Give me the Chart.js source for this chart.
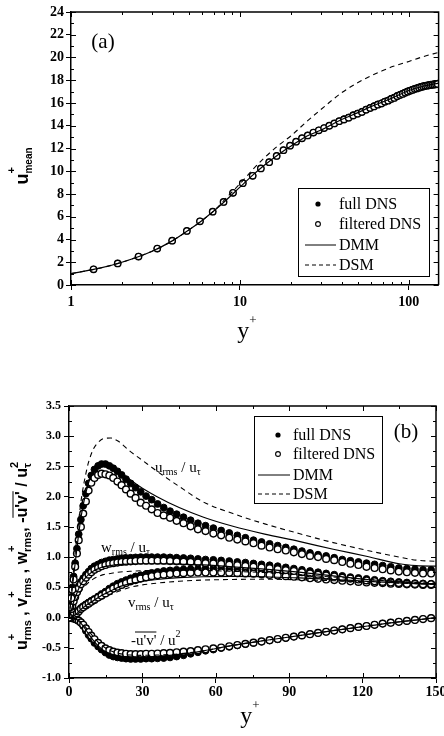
<!DOCTYPE html>
<html><head><meta charset="utf-8">
<script src="https://cdn.jsdelivr.net/npm/chart.js@4.4.1/dist/chart.umd.min.js"></script>
<style>html,body{margin:0;padding:0;background:#fff;}canvas{display:block;}</style>
</head><body>
<canvas id="ca" width="444" height="345"></canvas>
<canvas id="cb" width="444" height="391"></canvas>
<script>
// ---------- DATA ----------
// DNS grid points (y+)
const yPlus = [0,0.5,0.95,1.36,1.89,2.51,3.24,3.97,4.85,5.8,
 6.9,8.0,9.1,10.4,11.9,13.3,14.9,16.5,18.1,19.8,
 21.5,23.3,25.2,27.2,29.3,31.5,33.8,36.2,38.7,41.3,
 44.0,46.8,49.7,52.7,55.8,59.0,62.2,65.5,68.8,72.1,
 75.4,78.7,82.0,85.3,88.6,91.9,95.2,98.5,101.8,105.1,
 108.4,111.7,115.0,118.3,121.6,124.9,128.2,131.5,134.8,138.1,
 141.4,144.7,148.0];
// (a) mean velocity, from y+ = 1.36 onward
const uMeanFull = [1.38,1.9,2.5,3.2,3.9,4.75,5.6,6.45,7.3,8.1,
 8.95,9.6,10.25,10.8,11.35,11.85,12.25,12.6,12.9,13.15,
 13.4,13.6,13.8,14.0,14.2,14.4,14.6,14.75,14.95,15.1,
 15.25,15.45,15.6,15.75,15.9,16.0,16.15,16.25,16.4,16.5,
 16.65,16.75,16.85,16.95,17.05,17.12,17.2,17.27,17.33,17.4,
 17.45,17.5,17.54,17.57,17.6,17.63,17.66,17.68,17.7,17.72];
const uMeanFilt = [1.38,1.9,2.5,3.2,3.9,4.75,5.6,6.45,7.3,8.1,
 8.95,9.6,10.25,10.8,11.35,11.85,12.25,12.6,12.9,13.15,
 13.4,13.6,13.8,14.0,14.2,14.4,14.55,14.7,14.9,15.05,
 15.2,15.4,15.55,15.7,15.85,15.95,16.1,16.2,16.35,16.45,
 16.6,16.7,16.8,16.9,17.0,17.07,17.15,17.22,17.28,17.35,
 17.4,17.45,17.49,17.52,17.55,17.58,17.6,17.62,17.64,17.66];
const yLineA = [1,1.5,2,3,4,5,6,7,8,10,12,14,17,20,25,30,40,50,60,70,80,100,120,150];
const uMeanDMM = [1.0,1.5,2.0,2.95,3.9,4.85,5.7,6.5,7.25,8.6,9.7,10.55,11.5,12.2,13.1,13.6,14.55,15.15,15.7,16.1,16.45,17.1,17.45,17.75];
const uMeanDSM = [1.0,1.5,2.0,2.95,3.9,4.85,5.7,6.5,7.4,8.9,10.2,11.2,12.3,13.1,14.4,15.4,16.9,17.8,18.4,18.85,19.2,19.65,20.05,20.45];

// (b) turbulence intensities at DNS grid
const urmsFull = [0,0.18,0.34,0.5,0.68,0.9,1.14,1.38,1.62,1.85,
 2.05,2.22,2.35,2.45,2.51,2.54,2.54,2.51,2.47,2.42,
 2.36,2.29,2.22,2.15,2.08,2.01,1.95,1.88,1.82,1.76,
 1.71,1.66,1.61,1.56,1.52,1.48,1.44,1.4,1.36,1.32,
 1.28,1.25,1.22,1.19,1.16,1.13,1.1,1.07,1.04,1.02,
 0.99,0.96,0.94,0.92,0.9,0.88,0.86,0.84,0.82,0.81,
 0.8,0.79,0.79];
const urmsFilt = [0,0.17,0.32,0.46,0.63,0.84,1.06,1.28,1.5,1.72,
 1.92,2.1,2.23,2.31,2.36,2.38,2.37,2.35,2.31,2.25,
 2.19,2.12,2.05,1.98,1.9,1.85,1.79,1.73,1.69,1.65,
 1.6,1.56,1.51,1.46,1.43,1.39,1.36,1.32,1.29,1.26,
 1.23,1.19,1.16,1.13,1.11,1.08,1.05,1.02,1.0,0.97,
 0.95,0.92,0.89,0.87,0.84,0.82,0.8,0.78,0.76,0.75,
 0.74,0.73,0.73];
const wrmsFull = [0,0.08,0.15,0.21,0.29,0.37,0.45,0.52,0.59,0.65,
 0.71,0.76,0.81,0.85,0.88,0.91,0.93,0.95,0.96,0.97,
 0.98,0.985,0.99,0.995,1.0,1.0,1.0,1.0,1.0,0.995,
 0.99,0.985,0.98,0.97,0.96,0.955,0.945,0.935,0.92,0.91,
 0.895,0.88,0.865,0.85,0.83,0.81,0.79,0.77,0.75,0.73,
 0.71,0.69,0.67,0.655,0.64,0.625,0.61,0.6,0.59,0.58,
 0.57,0.565,0.56];
const wrmsFilt = [0,0.07,0.14,0.19,0.27,0.34,0.42,0.48,0.55,0.6,
 0.66,0.71,0.75,0.79,0.82,0.85,0.87,0.89,0.9,0.91,
 0.92,0.925,0.93,0.935,0.94,0.94,0.94,0.94,0.94,0.935,
 0.93,0.925,0.92,0.91,0.9,0.895,0.885,0.875,0.865,0.855,
 0.84,0.83,0.815,0.8,0.785,0.77,0.75,0.73,0.71,0.695,
 0.68,0.66,0.645,0.63,0.615,0.6,0.59,0.58,0.57,0.56,
 0.555,0.55,0.55];
const vrmsFull = [0,0,0.01,0.02,0.03,0.05,0.08,0.12,0.16,0.19,
 0.22,0.25,0.28,0.31,0.35,0.39,0.43,0.48,0.52,0.56,
 0.59,0.62,0.65,0.68,0.7,0.72,0.74,0.755,0.77,0.78,
 0.79,0.795,0.8,0.805,0.81,0.81,0.81,0.805,0.8,0.795,
 0.785,0.775,0.765,0.755,0.74,0.73,0.715,0.7,0.69,0.675,
 0.66,0.645,0.635,0.62,0.61,0.6,0.59,0.58,0.57,0.56,
 0.555,0.55,0.55];
const vrmsFilt = [0,0,0.01,0.02,0.03,0.05,0.07,0.1,0.14,0.17,
 0.2,0.23,0.26,0.29,0.33,0.36,0.4,0.44,0.48,0.51,
 0.54,0.57,0.6,0.62,0.645,0.665,0.685,0.7,0.71,0.72,
 0.73,0.735,0.74,0.745,0.745,0.745,0.745,0.74,0.735,0.73,
 0.725,0.715,0.705,0.695,0.685,0.675,0.665,0.65,0.64,0.63,
 0.62,0.61,0.6,0.59,0.58,0.575,0.57,0.56,0.555,0.55,
 0.545,0.54,0.54];
const uvFull = [0,0,-0.005,-0.01,-0.015,-0.025,-0.04,-0.06,-0.09,-0.14,
 -0.22,-0.29,-0.35,-0.42,-0.48,-0.53,-0.58,-0.62,-0.645,-0.66,
 -0.67,-0.68,-0.685,-0.685,-0.685,-0.68,-0.68,-0.675,-0.67,-0.66,
 -0.645,-0.625,-0.6,-0.575,-0.55,-0.53,-0.505,-0.485,-0.46,-0.44,
 -0.42,-0.4,-0.38,-0.36,-0.34,-0.315,-0.295,-0.275,-0.255,-0.235,
 -0.215,-0.195,-0.175,-0.155,-0.14,-0.12,-0.1,-0.085,-0.07,-0.055,
 -0.04,-0.025,-0.01];
const uvFilt = [0,0,-0.005,-0.01,-0.015,-0.02,-0.035,-0.05,-0.08,-0.12,
 -0.18,-0.24,-0.3,-0.36,-0.42,-0.47,-0.51,-0.54,-0.565,-0.58,
 -0.59,-0.6,-0.605,-0.605,-0.605,-0.6,-0.6,-0.595,-0.59,-0.585,
 -0.575,-0.565,-0.555,-0.54,-0.525,-0.51,-0.495,-0.475,-0.455,-0.435,
 -0.415,-0.395,-0.375,-0.355,-0.335,-0.315,-0.295,-0.275,-0.255,-0.235,
 -0.215,-0.195,-0.175,-0.155,-0.14,-0.12,-0.1,-0.085,-0.07,-0.055,
 -0.04,-0.025,-0.01];
// (b) LES model curves
const yLineB = [0,1,2,3,4,5,6,7,8,10,12,14,17,20,25,30,36,45,55,67,80,94,108,122,135,142,150];
const urmsDMM = [0,0.36,0.72,1.06,1.4,1.68,1.9,2.08,2.23,2.43,2.52,2.55,2.52,2.44,2.28,2.14,2.0,1.82,1.66,1.51,1.38,1.26,1.13,1.01,0.89,0.86,0.85];
const urmsDSM = [0,0.42,0.85,1.25,1.62,1.95,2.2,2.4,2.57,2.79,2.9,2.96,2.97,2.92,2.75,2.6,2.42,2.17,1.91,1.72,1.55,1.39,1.24,1.11,1.0,0.95,0.93];
const wrmsDMM = [0,0.13,0.27,0.38,0.48,0.56,0.62,0.67,0.71,0.77,0.81,0.84,0.86,0.875,0.885,0.89,0.89,0.885,0.87,0.84,0.8,0.75,0.69,0.63,0.59,0.57,0.56];
const wrmsDSM = [0,0.1,0.2,0.29,0.37,0.44,0.5,0.54,0.58,0.64,0.68,0.71,0.73,0.75,0.765,0.775,0.78,0.785,0.78,0.765,0.745,0.71,0.67,0.63,0.6,0.58,0.57];
const vrmsDMM = [0,0.01,0.03,0.06,0.1,0.14,0.17,0.2,0.23,0.28,0.33,0.38,0.44,0.5,0.56,0.6,0.63,0.66,0.675,0.68,0.675,0.655,0.63,0.6,0.575,0.56,0.55];
const vrmsDSM = [0,0.01,0.02,0.04,0.07,0.1,0.13,0.155,0.18,0.23,0.28,0.32,0.38,0.43,0.5,0.54,0.57,0.6,0.62,0.63,0.635,0.625,0.61,0.59,0.57,0.56,0.55];
const uvDMM = [0,0,-0.01,-0.03,-0.06,-0.1,-0.15,-0.21,-0.27,-0.38,-0.47,-0.54,-0.6,-0.63,-0.65,-0.65,-0.64,-0.61,-0.55,-0.46,-0.38,-0.3,-0.215,-0.14,-0.07,-0.04,0];
const uvDSM = [0,0,-0.01,-0.025,-0.05,-0.08,-0.12,-0.17,-0.22,-0.32,-0.41,-0.48,-0.55,-0.59,-0.62,-0.625,-0.62,-0.6,-0.55,-0.46,-0.38,-0.3,-0.215,-0.14,-0.07,-0.04,0];

// ticks
const xTicksA = [1,10,100];
const xMinorA = [2,3,4,5,6,7,8,9,20,30,40,50,60,70,80,90];
const yMinorA = [1,3,5,7,9,11,13,15,17,19,21,23];
const xMinorB = [15,45,75,105,135];
const yMinorB = [-0.75,-0.25,0.25,0.75,1.25,1.75,2.25,2.75,3.25];
const legendLabels = ['full DNS','filtered DNS','DMM','DSM'];

// ---------- HELPERS ----------
const zip = (xs, ys) => ys.map((v,i) => ({x: xs[i], y: v}));
const SERIF = '"Liberation Serif", "Times New Roman", serif';
const SANS = '"Liberation Sans", Arial, sans-serif';

function filledDS(data, r, order) {
  return {data, showLine:false, pointRadius:r, pointBackgroundColor:'#000', pointBorderColor:'#000', pointBorderWidth:1, order};
}
function openDS(data, r, order) {
  return {data, showLine:false, pointRadius:r, pointBackgroundColor:'#fff', pointBorderColor:'#000', pointBorderWidth:1.4, order};
}
function lineDS(data, dashed) {
  return {data, showLine:true, pointRadius:0, borderColor:'#000', borderWidth: dashed?1.1:1.2,
    borderDash: dashed?[5,4]:[], cubicInterpolationMode:'monotone', fill:false, order:0};
}

// rich text: segs = [{t, font, sup, sub, supFont, subFont, over}]
function richWidth(ctx, segs) {
  let w = 0;
  for (const s of segs) {
    ctx.font = s.font; let bw = ctx.measureText(s.t).width, ew = 0;
    if (s.sup) { ctx.font = s.supFont; ew = Math.max(ew, ctx.measureText(s.sup).width); }
    if (s.sub) { ctx.font = s.subFont; ew = Math.max(ew, ctx.measureText(s.sub).width); }
    w += bw + ew;
  }
  return w;
}
function rich(ctx, x, y, rot, segs, align) {
  ctx.save();
  ctx.translate(x, y);
  if (rot) ctx.rotate(-Math.PI/2);
  ctx.fillStyle = '#000'; ctx.strokeStyle = '#000';
  ctx.textBaseline = 'alphabetic'; ctx.textAlign = 'left';
  let cx = align === 'center' ? -richWidth(ctx, segs)/2 : 0;
  for (const s of segs) {
    ctx.font = s.font;
    const bw = ctx.measureText(s.t).width;
    ctx.fillText(s.t, cx, 0);
    if (s.over) { ctx.lineWidth = 1; ctx.beginPath(); ctx.moveTo(cx + s.over[0], -s.over[2]); ctx.lineTo(cx + bw - s.over[1], -s.over[2]); ctx.stroke(); }
    let ew = 0;
    if (s.sup) { ctx.font = s.supFont; ctx.fillText(s.sup, cx + bw + (s.supDx||0), -(s.supDy||7)); ew = Math.max(ew, ctx.measureText(s.sup).width); }
    if (s.sub) { ctx.font = s.subFont; ctx.fillText(s.sub, cx + bw, (s.subDy||3)); ew = Math.max(ew, ctx.measureText(s.sub).width); }
    cx += bw + ew;
  }
  ctx.restore();
}

function drawLegend(ctx, box, rowYs, symX, lx0, lx1, textX, font) {
  ctx.save();
  ctx.strokeStyle = '#000'; ctx.fillStyle = '#fff'; ctx.lineWidth = 1;
  ctx.fillRect(box.x, box.y, box.w, box.h);
  ctx.strokeRect(box.x + 0.5, box.y + 0.5, box.w, box.h);
  ctx.fillStyle = '#000';
  ctx.font = font; ctx.textBaseline = 'middle'; ctx.textAlign = 'left';
  legendLabels.forEach((lab, i) => {
    const y = rowYs[i];
    ctx.setLineDash([]);
    if (i === 0) { ctx.beginPath(); ctx.arc(symX, y, 2.6, 0, Math.PI*2); ctx.fill(); }
    else if (i === 1) { ctx.beginPath(); ctx.arc(symX, y, 2.4, 0, Math.PI*2); ctx.lineWidth = 1.1; ctx.stroke(); }
    else { ctx.lineWidth = 1; if (i === 3) ctx.setLineDash([4,3]); ctx.beginPath(); ctx.moveTo(lx0, y); ctx.lineTo(lx1, y); ctx.stroke(); }
    ctx.setLineDash([]);
    ctx.fillText(lab, textX, y + 1);
  });
  ctx.restore();
}

function framePlugin(cfg) {
  return {
    id: 'frame_' + cfg.name,
    afterDraw(chart) {
      const ctx = chart.ctx, a = chart.chartArea, xs = chart.scales.x, ys = chart.scales.y;
      ctx.save();
      ctx.strokeStyle = '#000';
      ctx.lineWidth = 1.5;
      ctx.beginPath();
      ctx.moveTo(a.left, a.top); ctx.lineTo(a.right, a.top); ctx.lineTo(a.right, a.bottom);
      ctx.stroke();
      ctx.lineWidth = 1;
      ctx.beginPath();
      const tick = (vals, len, axis) => {
        for (const v of vals) {
          if (axis === 'x') {
            const p = Math.round(xs.getPixelForValue(v)) + 0.5;
            ctx.moveTo(p, a.top); ctx.lineTo(p, a.top + len);
            ctx.moveTo(p, a.bottom); ctx.lineTo(p, a.bottom - len);
          } else {
            const p = Math.round(ys.getPixelForValue(v)) + 0.5;
            ctx.moveTo(a.left, p); ctx.lineTo(a.left + len, p);
            ctx.moveTo(a.right, p); ctx.lineTo(a.right - len, p);
          }
        }
      };
      tick(cfg.xMajor, 5, 'x'); tick(cfg.xMinor, 3, 'x');
      tick(cfg.yMajor, 5, 'y'); tick(cfg.yMinor, 3, 'y');
      ctx.stroke();
      cfg.extra(ctx, chart);
      ctx.restore();
    }
  };
}

function axisCommon(font, padding) {
  return {
    grid: {display:true, drawOnChartArea:false, drawTicks:true, tickLength:5, color:'#000', lineWidth:1},
    border: {display:true, color:'#000', width:1.5},
    ticks: {color:'#000', font, padding, maxRotation:0, autoSkip:false}
  };
}

// ---------- CHART (a) ----------
const yMajorA = [0,2,4,6,8,10,12,14,16,18,20,22,24];
new Chart(document.getElementById('ca'), {
  type: 'scatter',
  data: { datasets: [
    lineDS(zip(yLineA, uMeanDMM), false),
    lineDS(zip(yLineA, uMeanDSM), true),
    openDS(zip(yPlus.slice(3), uMeanFilt), 3.2, 1),
    filledDS(zip(yPlus.slice(3), uMeanFull), 3.2, 2)
  ]},
  options: {
    responsive:false, animation:false, devicePixelRatio:1,
    layout: {padding: {left:0, right:4, top:12, bottom:0}},
    plugins: {legend:{display:false}, tooltip:{enabled:false}},
    scales: {
      x: Object.assign(axisCommon({family:'Liberation Serif', size:14, weight:'bold'}, 4), {
        type:'logarithmic', min:1, max:150,
        afterBuildTicks: s => { s.ticks = xTicksA.map(v => ({value:v, major:true})); },
        afterFit: s => { s.height = 60; s.paddingLeft = 0; s.paddingRight = 0; }
      }),
      y: Object.assign(axisCommon({family:'Liberation Serif', size:14, weight:'bold'}, 2), {
        type:'linear', min:0, max:24,
        afterBuildTicks: s => { s.ticks = yMajorA.map(v => ({value:v})); },
        afterFit: s => { s.width = 71; }
      })
    }
  },
  plugins: [framePlugin({
    name:'a', xMajor:xTicksA, xMinor:xMinorA, yMajor:yMajorA, yMinor:yMinorA,
    extra(ctx) {
      ctx.fillStyle = '#000';
      ctx.font = '21px ' + SERIF; ctx.textAlign = 'center'; ctx.textBaseline = 'middle';
      ctx.fillText('(a)', 103, 42);
      drawLegend(ctx, {x:298, y:188, w:131, h:88}, [204,224,245,265], 318, 305, 336, 339, '16px ' + SERIF);
      // x title
      rich(ctx, 247, 338, false, [{t:'y', font:'24px ' + SERIF, sup:'+', supFont:'13px ' + SERIF, supDy:14}], 'center');
      // y title
      rich(ctx, 28, 166, true, [{t:'u', font:'bold 18px ' + SANS, sup:'+', supFont:'bold 11px ' + SANS, supDy:13,
        sub:'mean', subFont:'bold 10px ' + SANS, subDy:4}], 'center');
    }
  })]
});

// ---------- CHART (b) ----------
const xMajorB = [0,30,60,90,120,150];
const yMajorB = [-1,-0.5,0,0.5,1,1.5,2,2.5,3,3.5];
const dsB = [
  lineDS(zip(yLineB, urmsDMM), false), lineDS(zip(yLineB, urmsDSM), true),
  lineDS(zip(yLineB, wrmsDMM), false), lineDS(zip(yLineB, wrmsDSM), true),
  lineDS(zip(yLineB, vrmsDMM), false), lineDS(zip(yLineB, vrmsDSM), true),
  lineDS(zip(yLineB, uvDMM), false), lineDS(zip(yLineB, uvDSM), true),
  openDS(zip(yPlus, urmsFilt), 3.4, 1), openDS(zip(yPlus, wrmsFilt), 3.4, 1),
  openDS(zip(yPlus, vrmsFilt), 3.4, 1), openDS(zip(yPlus, uvFilt), 3.4, 1),
  filledDS(zip(yPlus, urmsFull), 3.4, 2), filledDS(zip(yPlus, wrmsFull), 3.4, 2),
  filledDS(zip(yPlus, vrmsFull), 3.4, 2), filledDS(zip(yPlus, uvFull), 3.4, 2)
];
new Chart(document.getElementById('cb'), {
  type: 'scatter',
  data: { datasets: dsB },
  options: {
    responsive:false, animation:false, devicePixelRatio:1,
    layout: {padding: {left:0, right:8, top:61, bottom:0}},
    plugins: {legend:{display:false}, tooltip:{enabled:false}},
    scales: {
      x: Object.assign(axisCommon({family:'Liberation Serif', size:14, weight:'bold'}, 1), {
        type:'linear', min:0, max:150,
        afterBuildTicks: s => { s.ticks = xMajorB.map(v => ({value:v})); },
        afterFit: s => { s.height = 58; s.paddingLeft = 0; s.paddingRight = 0; }
      }),
      y: Object.assign(axisCommon({family:'Liberation Serif', size:12, weight:'bold'}, 3), {
        type:'linear', min:-1, max:3.5,
        afterBuildTicks: s => { s.ticks = yMajorB.map(v => ({value:v})); },
        afterFit: s => { s.width = 69; }
      })
    }
  },
  plugins: [{
    id:'fmt', beforeInit(chart) { chart.options.scales.y.ticks.callback = v => Number(v).toFixed(1); }
  }, framePlugin({
    name:'b', xMajor:xMajorB, xMinor:xMinorB, yMajor:yMajorB, yMinor:yMinorB,
    extra(ctx) {
      ctx.fillStyle = '#000';
      ctx.font = '21px ' + SERIF; ctx.textAlign = 'center'; ctx.textBaseline = 'middle';
      ctx.fillText('(b)', 406, 87);
      drawLegend(ctx, {x:254, y:71, w:128, h:87}, [90,109,130,149], 278, 258, 290, 293, '16px ' + SERIF);
      const F = '15px ' + SERIF, S = '10px ' + SERIF;
      rich(ctx, 155, 127, false, [{t:'u', font:F, sub:'rms', subFont:S, subDy:3}, {t:' / u', font:F, sub:'τ', subFont:S, subDy:3}]);
      rich(ctx, 101, 207, false, [{t:'w', font:F, sub:'rms', subFont:S, subDy:3}, {t:' / u', font:F, sub:'τ', subFont:S, subDy:3}]);
      rich(ctx, 128, 262, false, [{t:'v', font:F, sub:'rms', subFont:S, subDy:3}, {t:' / u', font:F, sub:'τ', subFont:S, subDy:3}]);
      rich(ctx, 131, 300, false, [{t:"-u'v'", font:F, over:[4,0,13]}, {t:' / u', font:F, sup:'2', supFont:S, supDy:8}]);
      // x title
      rich(ctx, 250, 378, false, [{t:'y', font:'24px ' + SERIF, sup:'+', supFont:'13px ' + SERIF, supDy:14}], 'center');
      // y title
      const M = 'bold 16px ' + SANS, Sb = 'bold 11px ' + SANS;
      rich(ctx, 27, 211, true, [
        {t:'u', font:M, sup:'+', supFont:Sb, supDy:12, sub:'rms', subFont:Sb, subDy:4},
        {t:' , ', font:M},
        {t:'v', font:M, sup:'+', supFont:Sb, supDy:12, sub:'rms', subFont:Sb, subDy:4},
        {t:' , ', font:M},
        {t:'w', font:M, sup:'+', supFont:Sb, supDy:12, sub:'rms', subFont:Sb, subDy:4},
        {t:', ', font:M},
        {t:"-u'v'", font:M, over:[5,0,14]},
        {t:' / u', font:M, sup:'2', supFont:Sb, supDy:9, sub:'τ', subFont:Sb, subDy:4}
      ], 'center');
    }
  })]
});
</script>
</body></html>
